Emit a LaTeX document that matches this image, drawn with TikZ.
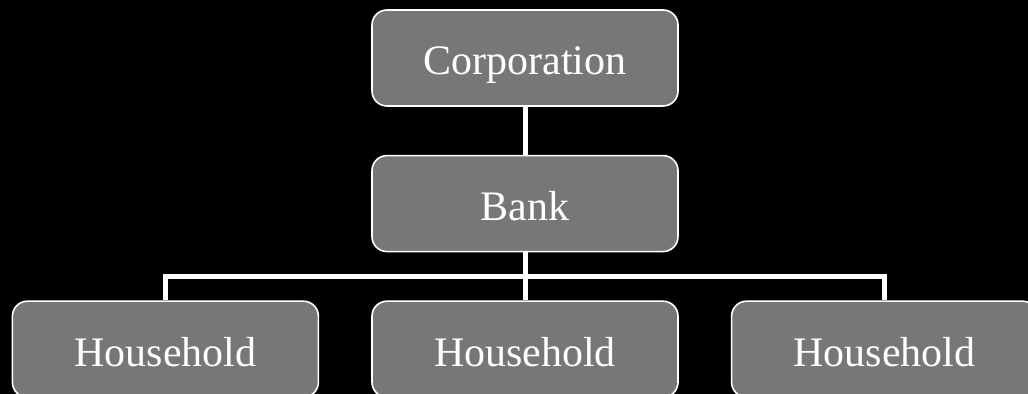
\documentclass[tikz,border=0pt]{standalone}
\usepackage{fontspec}
\setmainfont{Liberation Serif}
\usetikzlibrary{positioning,calc}
\definecolor{boxfill}{RGB}{119,119,119}
\tikzset{
  unit/.style={draw=white,line width=0.8pt,rounded corners=7.5pt,fill=boxfill,
    minimum width=153pt,minimum height=48pt,inner sep=0pt,text=white,
    text height=17pt,text depth=0pt,
    font=\fontsize{21pt}{24pt}\selectfont},
  link/.style={draw=white,line width=2.5pt},
}

\begin{document}
\begin{tikzpicture}[node distance=24pt]
  % page and background
  \useasboundingbox (0,0) rectangle (514pt,-197pt);
  \fill[black] (0,0) rectangle (514pt,-197pt);

  % top of the chain
  \node[unit] (corp) at (262.5pt,-29pt) {Corporation};
  \node[unit,below=of corp] (bank) {Bank};

  % households
  \node[unit,below=of bank] (hh2) {Household};
  \node[unit,left=26pt of hh2] (hh1) {Household};
  \node[unit,right=26pt of hh2] (hh3) {Household};

  \coordinate (split) at ($(bank.south)!.5!(hh2.north)$);
  \draw[link] (corp) -- (bank);
  \draw[link] (bank) -- (hh2);
  \draw[link] (hh1.north) |- (split) -| (hh3.north);
\end{tikzpicture}
\end{document}
